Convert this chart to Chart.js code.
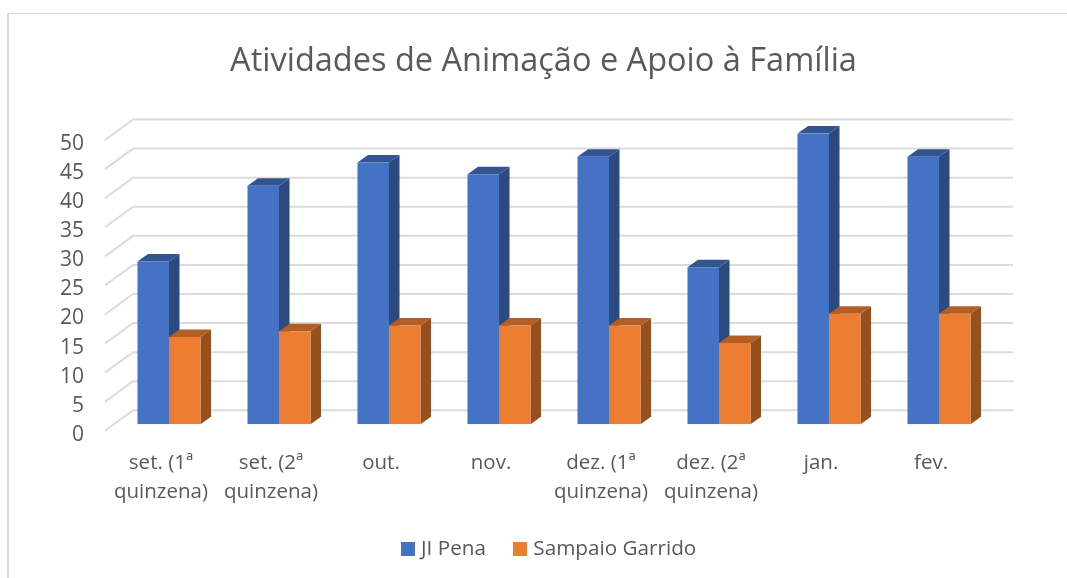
<!DOCTYPE html>
<html><head><meta charset="utf-8">
<style>
html,body{margin:0;padding:0;background:#fff;overflow:hidden}
#wrap{position:relative;width:1067px;height:578px}
#frame{position:absolute;left:7px;top:13px;right:0;bottom:0;border-left:2px solid #DADADA;border-top:1px solid #DADADA}
canvas{position:absolute;left:0;top:0}
</style>
<script src="https://cdn.jsdelivr.net/npm/chart.js@4"></script>
</head><body>
<div id="wrap"><div id="frame"></div><canvas id="c" width="1067" height="578"></canvas></div>
<script>
const categories = [["set. (1ª","quinzena)"],["set. (2ª","quinzena)"],"out.","nov.",["dez. (1ª","quinzena)"],["dez. (2ª","quinzena)"],"jan.","fev."];
const jiPena = [28,41,45,43,46,27,50,46];
const sampaioGarrido = [15,16,17,17,17,14,19,19];
const chartTitle = "Atividades de Animação e Apoio à Família";
const faceColors = ["#4472C4","#ED7D31"];
const sideColors = ["#2B4A80","#96501E"];
const topColors = ["#325591","#B35E24"];
const FONT = "'Open Sans'";
const INK = "#595959";
const LEGEND_SHIFT=44, TITLE_SHIFT=36.5;

function swatch(color){
  const s=document.createElement('canvas');s.width=14;s.height=14;
  const g=s.getContext('2d');g.fillStyle=color;g.fillRect(0,0,14,14);return s;
}
const depthPlugin={
  id:'depth',
  afterLayout(chart){
    const l=chart.legend;
    if(l){l.left+=LEGEND_SHIFT;l.right+=LEGEND_SHIFT;}
    const t=chart.titleBlock;
    if(t){t.left+=TITLE_SHIFT;t.right+=TITLE_SHIFT;}
  },
  beforeDatasetsDraw(chart){
    const ctx=chart.ctx,y=chart.scales.y,a=chart.chartArea;
    ctx.save();
    ctx.strokeStyle="#DBDBDB";ctx.lineWidth=2;
    y.ticks.forEach(t=>{
      const p=y.getPixelForValue(t.value);
      ctx.beginPath();
      ctx.moveTo(a.left-9,p+6.5);
      ctx.lineTo(a.left+19,p-14);
      ctx.lineTo(a.right+19,p-14);
      ctx.stroke();
    });
    const dx=10.5,dy=-7.5;
    chart.data.datasets.forEach((ds,i)=>{
      chart.getDatasetMeta(i).data.forEach(b=>{
        const w=b.width/2,L=b.x-w,R=b.x+w,T=b.y,B=b.base;
        ctx.fillStyle=sideColors[i];
        ctx.beginPath();ctx.moveTo(R,T);ctx.lineTo(R+dx,T+dy);ctx.lineTo(R+dx,B+dy);ctx.lineTo(R,B);ctx.closePath();ctx.fill();
        ctx.fillStyle=topColors[i];
        ctx.beginPath();ctx.moveTo(L,T);ctx.lineTo(L+dx,T+dy);ctx.lineTo(R+dx,T+dy);ctx.lineTo(R,T);ctx.closePath();ctx.fill();
      });
    });
    ctx.restore();
  }
};
new Chart(document.getElementById('c'),{
  type:'bar',
  data:{labels:categories,datasets:[
    {label:"JI Pena",data:jiPena,backgroundColor:faceColors[0],pointStyle:swatch(faceColors[0]),categoryPercentage:0.5727,barPercentage:1},
    {label:"Sampaio Garrido",data:sampaioGarrido,backgroundColor:faceColors[1],pointStyle:swatch(faceColors[1]),categoryPercentage:0.5727,barPercentage:1}
  ]},
  options:{
    responsive:false,animation:false,
    layout:{padding:{left:20,right:73,top:42,bottom:9}},
    plugins:{
      tooltip:{enabled:false},
      title:{display:true,text:chartTitle,color:INK,font:{family:FONT,size:32.5,weight:'normal'},padding:{top:0,bottom:52.5}},
      legend:{position:'bottom',labels:{usePointStyle:true,pointStyleWidth:5,color:INK,font:{family:FONT,size:20.7},padding:32,boxHeight:14}}
    },
    scales:{
      x:{grid:{display:false,drawTicks:false},border:{display:false},
        ticks:{color:INK,font:{family:FONT,size:20.5,lineHeight:1.41},padding:24,labelOffset:-8,maxRotation:0,autoSkip:false},
        afterFit(s){s.height=82;}},
      y:{min:0,max:50,grid:{display:false,drawTicks:false},border:{display:false},
        ticks:{stepSize:5,color:INK,font:{family:FONT,size:21},padding:30,labelOffset:10.5},
        afterFit(s){s.width=94;}}
    }
  },
  plugins:[depthPlugin]
});
</script>
</body></html>
